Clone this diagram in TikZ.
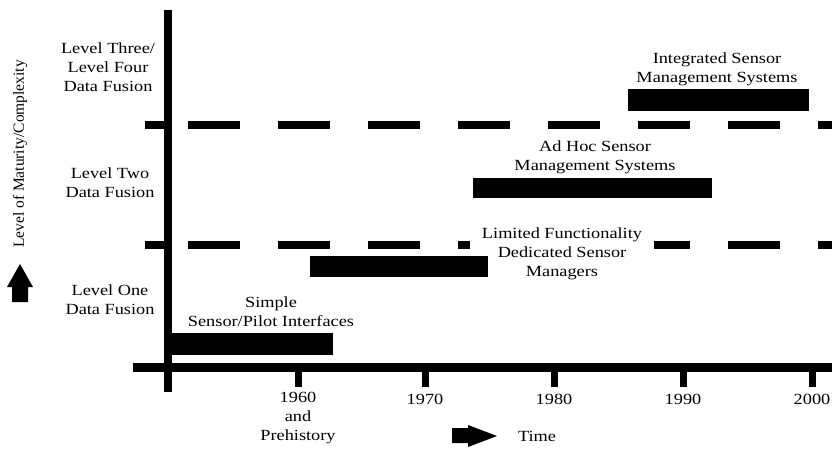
\documentclass[tikz,border=0pt]{standalone}
\usepackage{fontspec}
\setmainfont{Liberation Serif}
\newcommand\hstretch[1]{\scalebox{1.18}[1]{#1}}
\tikzset{
  lbl/.style={inner sep=0pt, align=center, font=\fontsize{15.5}{19}\selectfont},
  bar/.style={fill=black},
  axisline/.style={line width=8.5pt},
  tickline/.style={line width=7pt},
  levelline/.style={line width=8pt, dash pattern=on 52pt off 38pt}
}
\begin{document}
\begin{tikzpicture}[x=1pt,y=-1pt]
\useasboundingbox (0,0) rectangle (832,449);
% level separators
\draw[levelline] (188,125) -- (832,125);
\draw[levelline] (188,245) -- (832,245);
\draw[tickline, line width=7.5pt] (145,125) -- (168,125);
\draw[tickline, line width=7.5pt] (145,245) -- (168,245);
% axes
\draw[axisline] (168,10) -- (168,392);
\draw[axisline] (133,367.5) -- (832,367.5);
\foreach \x in {298,425,554,683,812}
  \draw[tickline] (\x,367) -- (\x,387);
% left labels
\node[lbl] (l3) at (108,69) {\hstretch{\begin{tabular}{@{}c@{}}Level Three/\\Level Four\\Data Fusion\end{tabular}}};
\node[lbl] (l2) at (110,184) {\hstretch{\begin{tabular}{@{}c@{}}Level Two\\Data Fusion\end{tabular}}};
\node[lbl] (l1) at (110,301) {\hstretch{\begin{tabular}{@{}c@{}}Level One\\Data Fusion\end{tabular}}};
\node[lbl, rotate=90] (ylab) at (20,154) {Level of Maturity/Complexity};
\fill (20,264) -- (33,287) -- (28,287) -- (28,302) -- (12,302) -- (12,287) -- (7,287) -- cycle;
% bar labels
\node[lbl] (isms) at (717,69) {\hstretch{\begin{tabular}{@{}c@{}}Integrated Sensor\\Management Systems\end{tabular}}};
\node[lbl] (ahsms) at (595,157.5) {\hstretch{\begin{tabular}{@{}c@{}}Ad Hoc Sensor\\Management Systems\end{tabular}}};
\node[lbl, fill=white, inner xsep=12pt, inner ysep=2pt] (lfdsm) at (562,254) {\hstretch{\begin{tabular}{@{}c@{}}Limited Functionality\\Dedicated Sensor\\Managers\end{tabular}}};
\node[lbl] (spi) at (271,313) {\hstretch{\begin{tabular}{@{}c@{}}Simple\\Sensor/Pilot Interfaces\end{tabular}}};
% bars
\fill[bar] (172,333) rectangle (333,355);
\fill[bar] (310,256) rectangle (488,277);
\fill[bar] (473,178) rectangle (712,198);
\fill[bar] (628,89) rectangle (809,111);
% year labels
\node[lbl] (y1960) at (298,418) {\hstretch{\begin{tabular}{@{}c@{}}1960\\and\\Prehistory\end{tabular}}};
\node[lbl] (y1970) at (425,399) {\hstretch{1970}};
\node[lbl] (y1980) at (554,399) {\hstretch{1980}};
\node[lbl] (y1990) at (683,399) {\hstretch{1990}};
\node[lbl] (y2000) at (812,399) {\hstretch{2000}};
\fill (452,428) -- (468,428) -- (468,425) -- (497,436) -- (468,447) -- (468,443) -- (452,443) -- cycle;
\node[lbl] (time) at (537,436) {\hstretch{Time}};
\end{tikzpicture}
\end{document}
